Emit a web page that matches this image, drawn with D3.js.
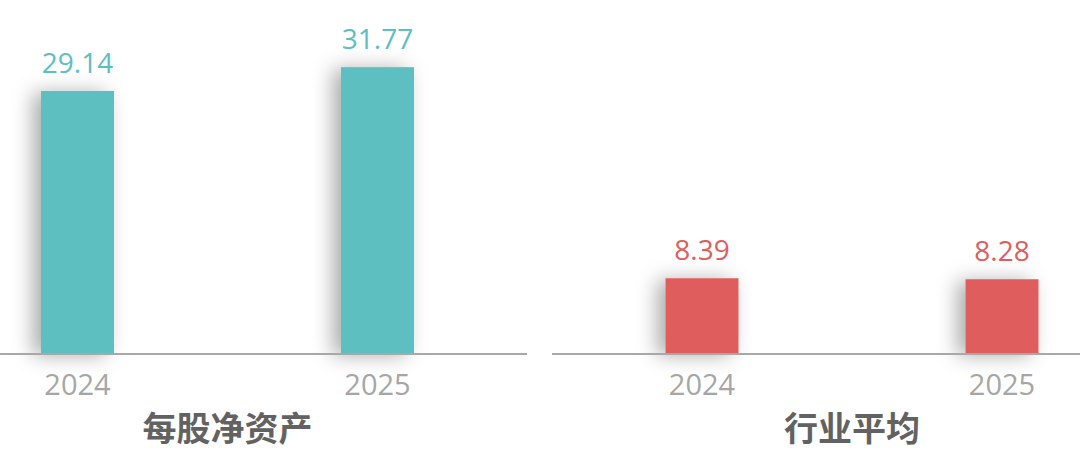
<!DOCTYPE html>
<html>
<head>
<meta charset="utf-8">
<script src="https://cdn.jsdelivr.net/npm/d3@7"></script>
<style>
  html, body { margin: 0; padding: 0; background: #fff; }
  svg { display: block; }
</style>
</head>
<body>
<div id="chart"></div>
<script>
// data
var years = ["2024", "2025"];
var navValues = [29.14, 31.77];   // 每股净资产
var industryValues = [8.39, 8.28]; // 行业平均
var panelTitles = ["每股净资产", "行业平均"];

var W = 1080, H = 469;
var baseY = 354;
var barW = 73;
var numFont = "'Segoe UI', 'Open Sans', 'Noto Sans', sans-serif";

var svg = d3.select("#chart").append("svg")
  .attr("width", W)
  .attr("height", H);

// soft shadow behind bars
var defs = svg.append("defs");
var f = defs.append("filter").attr("id", "barShadow")
  .attr("x", "-80%").attr("y", "-30%").attr("width", "240%").attr("height", "160%");
f.append("feDropShadow")
  .attr("dx", -8).attr("dy", 2)
  .attr("stdDeviation", 10)
  .attr("flood-color", "#000")
  .attr("flood-opacity", 0.33);

var y = d3.scaleLinear().domain([0, 35]).range([baseY, baseY - 316]);

var panels = [
  { values: navValues, title: panelTitles[0], color: "#5dbfbf", x0: -72.5, lineX0: 0, lineX1: 527 },
  { values: industryValues, title: panelTitles[1], color: "#e05d5d", x0: 552, lineX0: 552, lineX1: 1080 }
];

panels.forEach(function (p) {
  var x = d3.scalePoint().domain(years).range([p.x0, p.x0 + 600]).padding(0.5);
  var g = svg.append("g");

  g.selectAll("rect")
    .data(p.values).enter()
    .append("rect")
    .attr("x", function (d, i) { return x(years[i]) - barW / 2; })
    .attr("y", function (d) { return y(d); })
    .attr("width", barW)
    .attr("height", function (d) { return baseY - 1 - y(d); })
    .attr("filter", "url(#barShadow)")
    .style("fill", p.color);

  // axis line
  g.append("line")
    .attr("x1", p.lineX0).attr("x2", p.lineX1)
    .attr("y1", baseY).attr("y2", baseY)
    .style("stroke", "#a8a8a8")
    .style("stroke-width", 2);

  // value labels
  g.selectAll("text.val")
    .data(p.values).enter()
    .append("text")
    .attr("class", "val")
    .attr("x", function (d, i) { return x(years[i]); })
    .attr("y", function (d) { return y(d) - 18; })
    .attr("text-anchor", "middle")
    .style("font-family", numFont)
    .style("font-size", "28px")
    .style("fill", p.color)
    .text(function (d) { return d.toFixed(2); });

  // year labels
  g.selectAll("text.yr")
    .data(years).enter()
    .append("text")
    .attr("class", "yr")
    .attr("x", function (d) { return x(d); })
    .attr("y", 395)
    .attr("text-anchor", "middle")
    .style("font-family", numFont)
    .style("font-size", "29px")
    .style("fill", "#a6a6a6")
    .text(function (d) { return d; });

  // panel title
  g.append("text")
    .attr("x", p.x0 + 300)
    .attr("y", 441)
    .attr("text-anchor", "middle")
    .style("font-family", "'Noto Sans CJK SC', sans-serif")
    .style("font-weight", "bold")
    .style("font-size", "34px")
    .style("fill", "#626262")
    .text(p.title);
});
</script>
</body>
</html>
